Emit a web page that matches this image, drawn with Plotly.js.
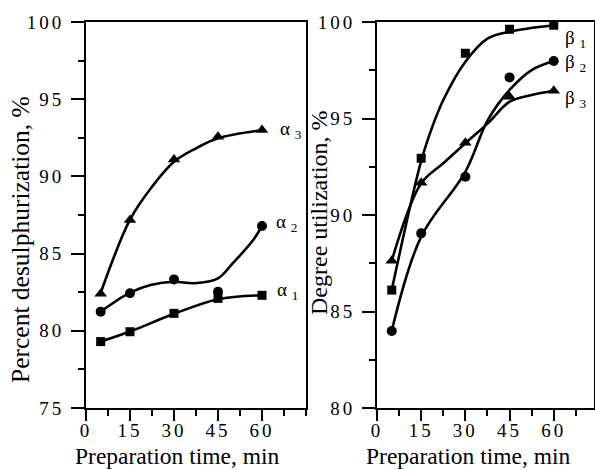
<!DOCTYPE html>
<html>
<head>
<meta charset="utf-8">
<script src="https://cdn.plot.ly/plotly-3.0.1.min.js"></script>
<style>
html,body{margin:0;padding:0;background:#fff;}
#chart{width:595px;height:470px;}
.xtick text, .ytick text, .x2tick text, .y2tick text { letter-spacing: 3px !important; }
</style>
</head>
<body>
<div id="chart"></div>
<script>
// Measured points, left panel (percent desulphurization)
const timeMin = [5, 15, 30, 45, 60];
const alpha1 = [79.3, 79.94, 81.13, 82.1, 82.3];
const alpha2 = [81.24, 82.43, 83.33, 82.53, 86.79];
const alpha3 = [82.4, 87.18, 91.1, 92.57, 93.0];
// Fitted curves, left panel
const a1CurveX = [5, 15, 30, 45, 60];
const a1CurveY = [79.3, 79.95, 81.1, 82.05, 82.3];
const a2CurveX = [5, 15, 22, 30, 37, 45, 50, 57, 60];
const a2CurveY = [81.24, 82.47, 82.97, 83.18, 83.08, 83.4, 84.37, 85.88, 86.8];
const a3CurveX = [5, 15, 22.5, 30, 37.5, 45, 60];
const a3CurveY = [82.45, 87.2, 89.33, 90.95, 91.82, 92.47, 92.99];

// Measured points, right panel (degree utilization)
const beta1 = [86.11, 92.94, 98.38, 99.62, 99.83];
const beta2 = [83.99, 89.05, 91.98, 97.13, 97.98];
const beta3 = [87.63, 91.67, 93.75, 96.13, 96.44];
// Fitted curves, right panel
const b1CurveX = [5, 15, 18.8, 22.5, 30, 37.6, 45, 60];
const b1CurveY = [86.11, 92.8, 94.58, 95.96, 97.94, 99.15, 99.5, 99.83];
const b2CurveX = [5, 15, 30, 37.6, 45, 52.5, 60];
const b2CurveY = [83.99, 88.88, 92.24, 94.92, 96.48, 97.51, 97.98];
const b3CurveX = [5, 15, 22.5, 30, 37.6, 45, 52.5, 60];
const b3CurveY = [87.63, 91.64, 92.68, 93.72, 94.75, 95.87, 96.22, 96.44];

const xTickVals = [0, 15, 30, 45, 60];
const xTickText = ["0", "15", "30", "45", "60"];
const leftYTickVals = [75, 80, 85, 90, 95, 100];
const leftYTickText = ["75", "80", "85", "90", "95", "100"];
const rightYTickVals = [80, 85, 90, 95, 100];
const rightYTickText = ["80", "85", "90", "95", "100"];

const xTitle = "Preparation time, min";
const leftYTitle = "Percent desulphurization, %";
const rightYTitle = "Degree utilization, %";
const leftLabels = ["α <sub>1</sub>", "α <sub>2</sub>", "α <sub>3</sub>"];
const rightLabels = ["β <sub>1</sub>", "β <sub>2</sub>", "β <sub>3</sub>"];

const FONT = "Liberation Serif";
const LW = 2.6;

function curve(x, y, xa, ya) {
  return {x: x, y: y, xaxis: xa, yaxis: ya, mode: 'lines', type: 'scatter',
    line: {color: 'black', width: LW, shape: 'spline', smoothing: 1},
    hoverinfo: 'skip', showlegend: false};
}
function pts(x, y, sym, size, xa, ya) {
  return {x: x, y: y, xaxis: xa, yaxis: ya, mode: 'markers', type: 'scatter',
    marker: {symbol: sym, size: size, color: 'black'}, showlegend: false};
}

const data = [
  curve(a1CurveX, a1CurveY, 'x', 'y'),
  curve(a2CurveX, a2CurveY, 'x', 'y'),
  curve(a3CurveX, a3CurveY, 'x', 'y'),
  pts(timeMin, alpha1, 'square', 9, 'x', 'y'),
  pts(timeMin, alpha2, 'circle', 10, 'x', 'y'),
  pts(timeMin, alpha3, 'triangle-up', 11, 'x', 'y'),
  curve(b1CurveX, b1CurveY, 'x2', 'y2'),
  curve(b2CurveX, b2CurveY, 'x2', 'y2'),
  curve(b3CurveX, b3CurveY, 'x2', 'y2'),
  pts(timeMin, beta1, 'square', 9, 'x2', 'y2'),
  pts(timeMin, beta2, 'circle', 10, 'x2', 'y2'),
  pts(timeMin, beta3, 'triangle-up', 11, 'x2', 'y2')
];

function xAxis(domain, range, anchor) {
  return {domain: domain, range: range, anchor: anchor,
    tickvals: xTickVals, ticktext: xTickText,
    ticks: 'outside', ticklen: 11, tickwidth: 2, tickcolor: 'black',
    ticklabelstandoff: -7,
    minor: {dtick: 7.5, tick0: 0, ticks: 'outside', ticklen: 6, tickwidth: 2, tickcolor: 'black', showgrid: false},
    showline: true, linecolor: 'black', linewidth: 2, mirror: true,
    showgrid: false, zeroline: false,
    tickfont: {family: FONT, size: 19, color: 'black'}};
}
function yAxis(domain, range, anchor, vals, text) {
  return {domain: domain, range: range, anchor: anchor,
    tickvals: vals, ticktext: text,
    ticks: 'outside', ticklen: 13, tickwidth: 2, tickcolor: 'black',
    ticklabelstandoff: 3,
    minor: {dtick: 2.5, tick0: 0, ticks: 'outside', ticklen: 6, tickwidth: 2, tickcolor: 'black', showgrid: false},
    showline: true, linecolor: 'black', linewidth: 2, mirror: true,
    showgrid: false, zeroline: false,
    tickfont: {family: FONT, size: 19, color: 'black'}};
}

const yDom = [1 - 408/470, 1 - 22/470];
const annFont = {family: FONT, size: 19, color: 'black'};
const xTitleFont = {family: FONT, size: 23.5, color: 'black'};
const leftYTitleFont = {family: FONT, size: 25.5, color: 'black'};
const rightYTitleFont = {family: FONT, size: 24, color: 'black'};

const annotations = [
  {xref: 'paper', yref: 'paper', x: 177/595, y: 0, text: xTitle, showarrow: false, font: xTitleFont, xanchor: 'center', yanchor: 'bottom', borderpad: 0},
  {xref: 'paper', yref: 'paper', x: 468/595, y: 0, text: xTitle, showarrow: false, font: xTitleFont, xanchor: 'center', yanchor: 'bottom', borderpad: 0},
  {xref: 'paper', yref: 'paper', x: 21/595, y: 1 - 240/470, text: leftYTitle, textangle: -90, showarrow: false, font: leftYTitleFont, xanchor: 'center', yanchor: 'middle'},
  {xref: 'paper', yref: 'paper', x: 319/595, y: 1 - 213/470, text: rightYTitle, textangle: -90, showarrow: false, font: rightYTitleFont, xanchor: 'center', yanchor: 'middle'},
  {xref: 'x', yref: 'y', x: 64.5, y: 82.55, text: leftLabels[0], showarrow: false, font: annFont, xanchor: 'left', yanchor: 'middle'},
  {xref: 'x', yref: 'y', x: 64.0, y: 87.0, text: leftLabels[1], showarrow: false, font: annFont, xanchor: 'left', yanchor: 'middle'},
  {xref: 'x', yref: 'y', x: 65.5, y: 93.0, text: leftLabels[2], showarrow: false, font: annFont, xanchor: 'left', yanchor: 'middle'},
  {xref: 'x2', yref: 'y2', x: 63.0, y: 99.1, text: rightLabels[0], showarrow: false, font: annFont, xanchor: 'left', yanchor: 'middle'},
  {xref: 'x2', yref: 'y2', x: 63.0, y: 97.9, text: rightLabels[1], showarrow: false, font: annFont, xanchor: 'left', yanchor: 'middle'},
  {xref: 'x2', yref: 'y2', x: 63.0, y: 96.0, text: rightLabels[2], showarrow: false, font: annFont, xanchor: 'left', yanchor: 'middle'}
];

const layout = {
  width: 595, height: 470,
  margin: {l: 0, r: 0, t: 0, b: 0},
  paper_bgcolor: 'white', plot_bgcolor: 'white',
  showlegend: false,
  xaxis: xAxis([86/595, 306/595], [0, 75], 'y'),
  yaxis: yAxis(yDom, [75, 100], 'x', leftYTickVals, leftYTickText),
  xaxis2: xAxis([377/595, 0.998], [0, 73.6], 'y2'),
  yaxis2: yAxis(yDom, [80, 100], 'x2', rightYTickVals, rightYTickText),
  annotations: annotations
};

Plotly.newPlot('chart', data, layout, {displayModeBar: false, staticPlot: true});
</script>
</body>
</html>
